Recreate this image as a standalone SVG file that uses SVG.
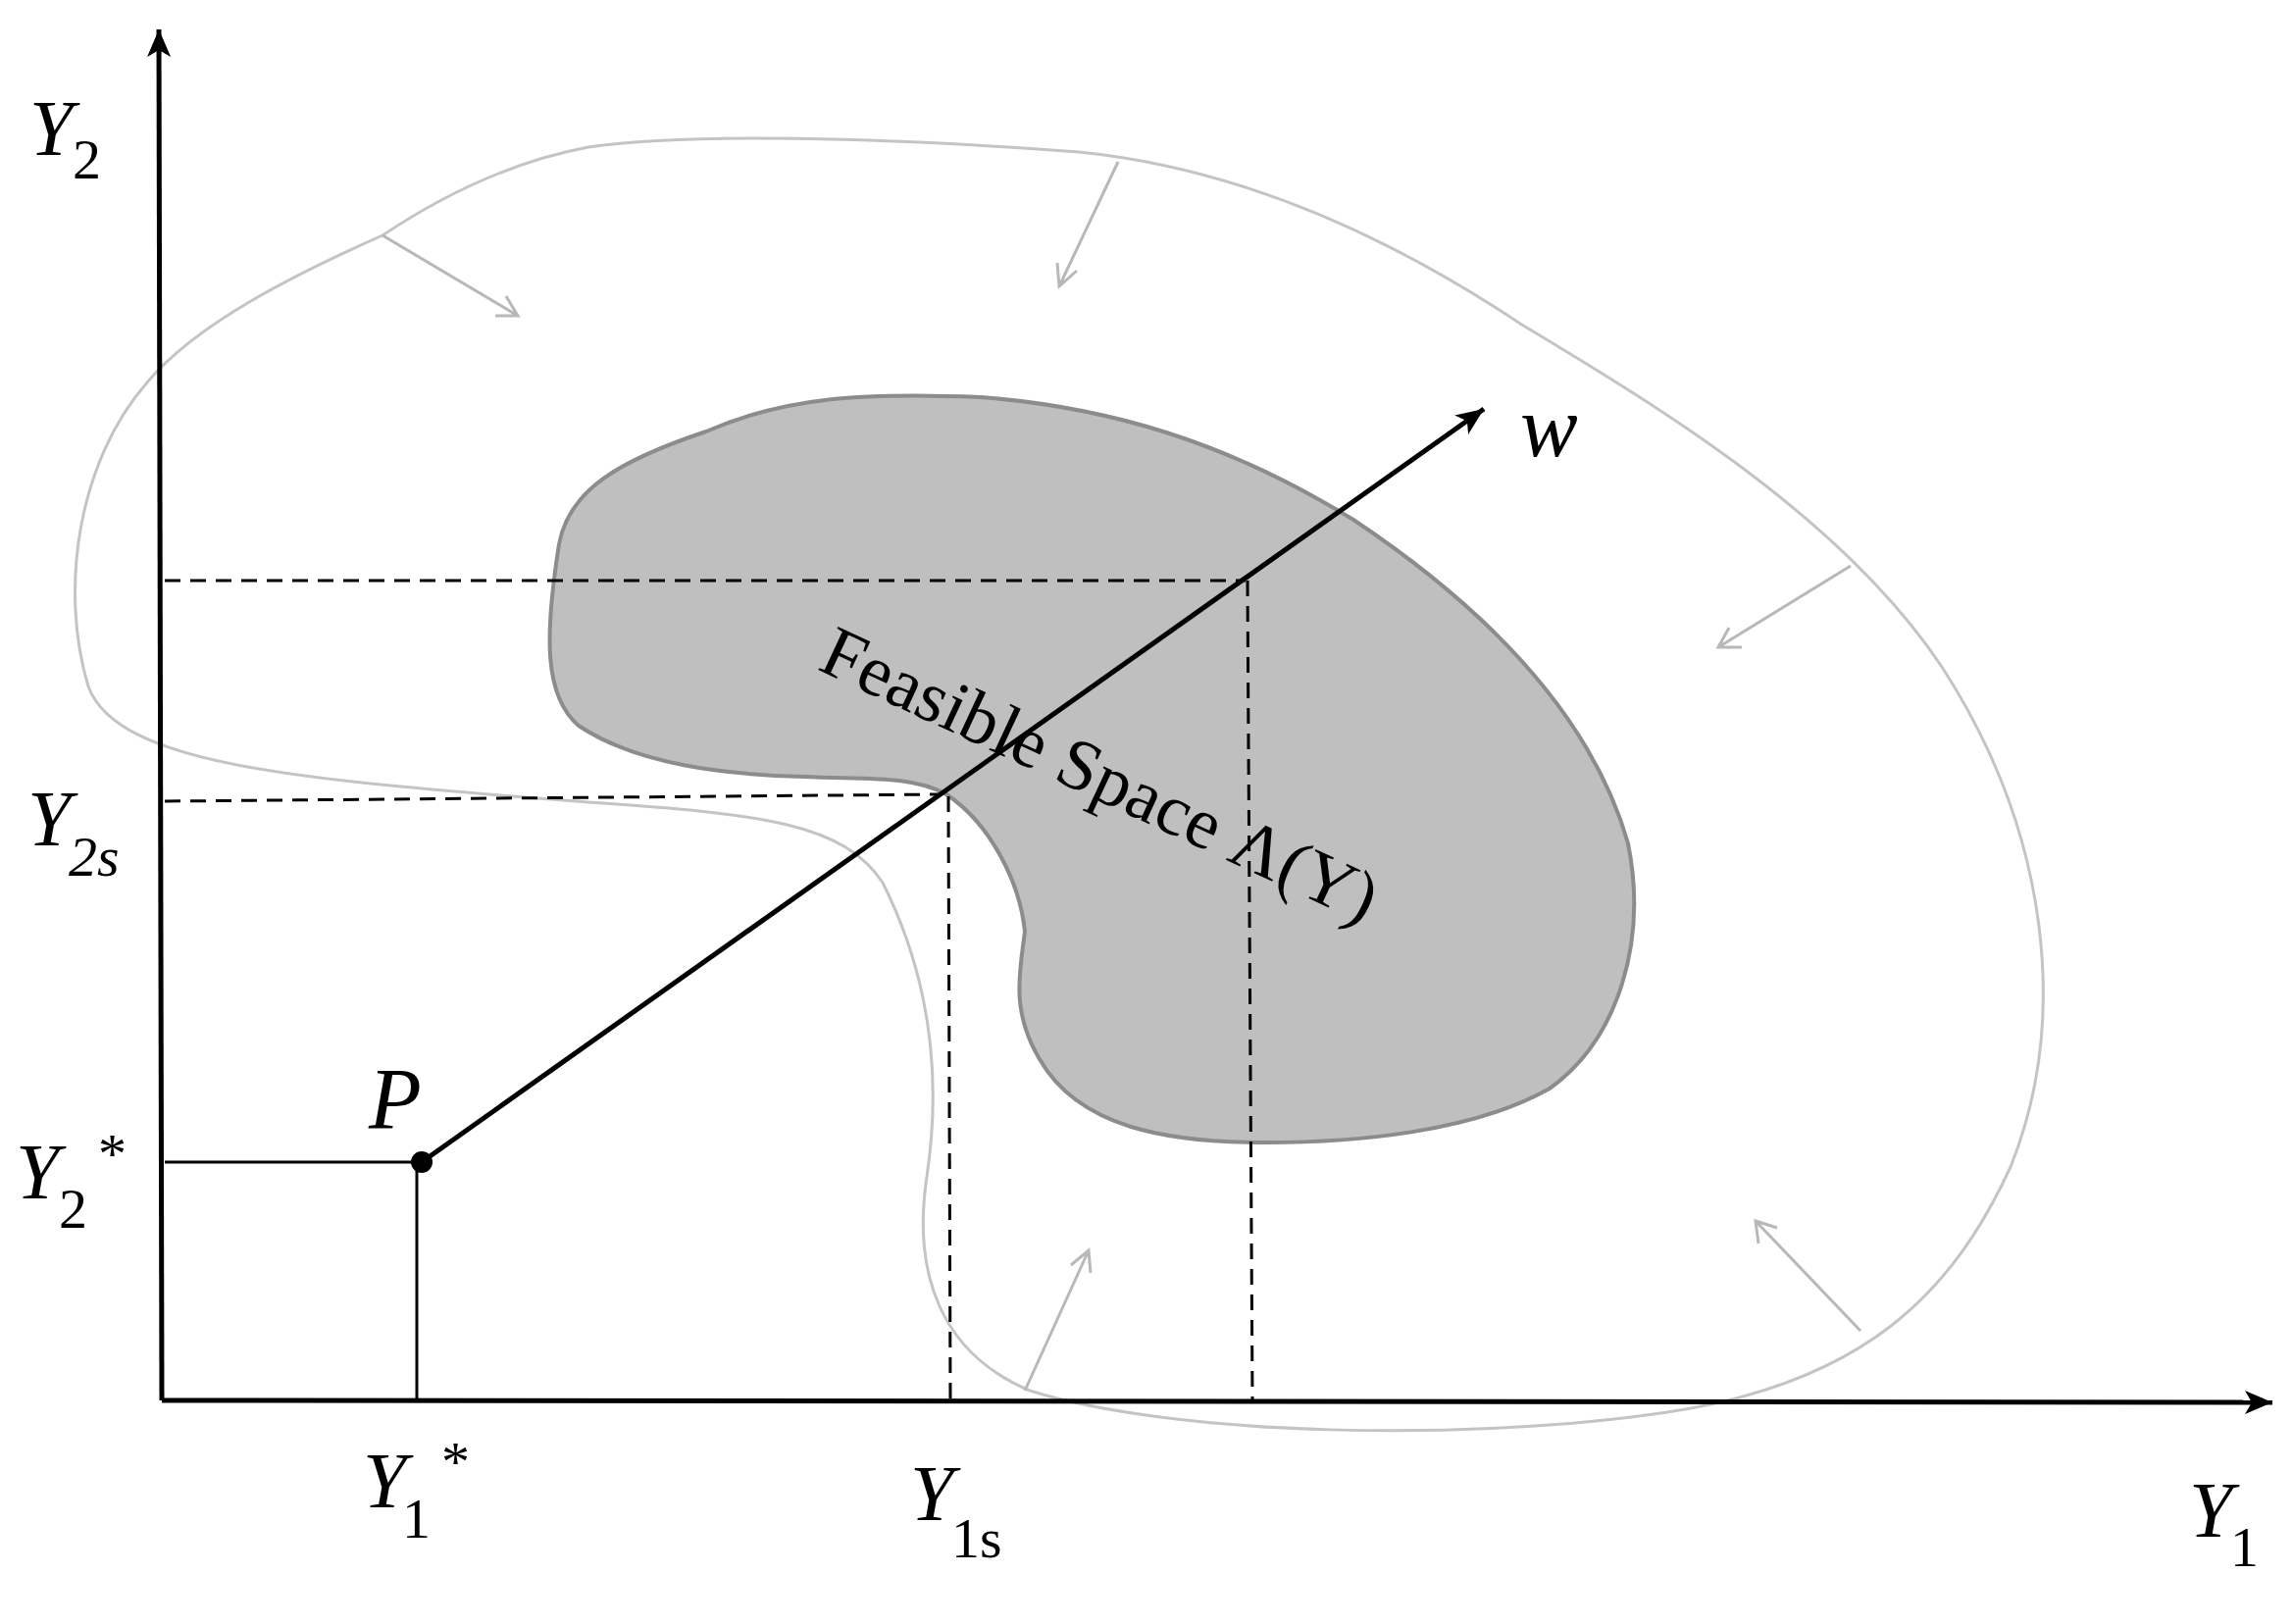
<svg xmlns="http://www.w3.org/2000/svg" width="2337" height="1656" viewBox="0 0 2337 1656">
<style>
.t{font-family:"Liberation Serif","Times New Roman","DejaVu Serif",serif;fill:#000}
.i{font-style:italic}
.ax{stroke:#000;stroke-width:5;fill:none}
.d{stroke:#000;stroke-width:3;stroke-dasharray:16,10;fill:none}
.s{stroke:#000;stroke-width:3;fill:none}
.ga{stroke:#b8b8b8;stroke-width:3;fill:none}
</style>
<defs>
<marker id="ah2" markerWidth="30" markerHeight="24" refX="28" refY="12" orient="auto" markerUnits="userSpaceOnUse" viewBox="0 0 30 24"><path d="M0,0 L28,12 L0,24 L7,12 Z" fill="#000"/></marker>
</defs>
<rect width="2337" height="1656" fill="#fff"/>
<g id="outer">
<path d="M390,240 C300,280 200,330 150,390 C80,470 60,600 90,700 C120,780 300,795 600,818 C780,830 860,840 900,900 C950,1000 960,1100 945,1200 C930,1300 960,1380 1050,1418 C1200,1465 1500,1470 1700,1440 C1900,1410 1990,1320 2050,1190 C2110,1040 2090,850 1980,680 C1880,530 1700,420 1550,330 C1400,230 1250,170 1100,155 C900,140 700,135 600,150 C520,165 450,200 390,240 Z" stroke="#c4c4c4" stroke-width="3" fill="none"/>
</g>
<g id="feasible">
<path d="M570,555 C580,500 630,470 720,440 C800,405 880,400 1000,405 C1130,415 1250,450 1380,530 C1500,610 1620,720 1660,860 C1680,960 1650,1060 1580,1110 C1500,1155 1380,1165 1290,1165 C1190,1165 1100,1150 1060,1080 C1030,1030 1040,990 1045,950 C1040,900 1010,840 965,810 C930,790 880,795 820,792 C740,790 650,780 590,740 C555,710 555,650 570,555 Z" fill="#bfbfbf" stroke="#8c8c8c" stroke-width="4"/>
</g>
<g id="connectors">
<path class="ga" d="M390,240 L528,322 M505,322 L528,322 L516,302"/>
<path class="ga" d="M1140,165 L1080,292 M1078,268 L1080,292 L1098,276"/>
<path class="ga" d="M1887,577 L1752,660 M1763,640 L1752,660 L1776,660"/>
<path class="ga" d="M1897,1357 L1790,1245 M1812,1252 L1790,1245 L1793,1268"/>
<path class="ga" d="M1045,1418 L1110,1275 M1092,1290 L1110,1275 L1112,1298"/>
<line class="ax" x1="165" y1="1428" x2="162" y2="30" marker-end="url(#ah2)"/>
<line class="ax" x1="165" y1="1428" x2="2317" y2="1430" marker-end="url(#ah2)"/>
<line class="d" x1="168" y1="592" x2="1270" y2="592"/>
<line class="d" x1="1272" y1="592" x2="1277" y2="1428"/>
<line class="d" x1="168" y1="817" x2="960" y2="810"/>
<line class="d" x1="967" y1="812" x2="969" y2="1428"/>
<line class="s" x1="168" y1="1185" x2="430" y2="1185"/>
<line class="s" x1="425" y1="1185" x2="425" y2="1428"/>
<line class="ax" x1="430" y1="1185" x2="1513" y2="417" marker-end="url(#ah2)"/>
<circle cx="430" cy="1185" r="11" fill="#000"/>
</g>
<g id="labels">
<text class="t i" x="30" y="158" font-size="80">Y</text><text class="t" x="74" y="182" font-size="58">2</text>
<text class="t i" x="28" y="862" font-size="80">Y</text><text class="t i" x="70" y="893" font-size="58">2s</text>
<text class="t i" x="16" y="1222" font-size="80">Y</text><text class="t" x="60" y="1252" font-size="58">2</text><text class="t" x="100" y="1196" font-size="58">*</text>
<text class="t i" x="376" y="1150" font-size="88">P</text>
<text class="t i" x="1550" y="465" font-size="88">w</text>
<text class="t i" x="370" y="1537" font-size="80">Y</text><text class="t" x="410" y="1568" font-size="58">1</text><text class="t" x="450" y="1510" font-size="58">*</text>
<text class="t i" x="928" y="1550" font-size="80">Y</text><text class="t" x="970" y="1588" font-size="58">1s</text>
<text class="t i" x="2232" y="1567" font-size="80">Y</text><text class="t" x="2274" y="1597" font-size="58">1</text>
<text class="t" font-size="74" transform="translate(832,682) rotate(25)">Feasible Space Λ(Y)</text>
</g>
</svg>
